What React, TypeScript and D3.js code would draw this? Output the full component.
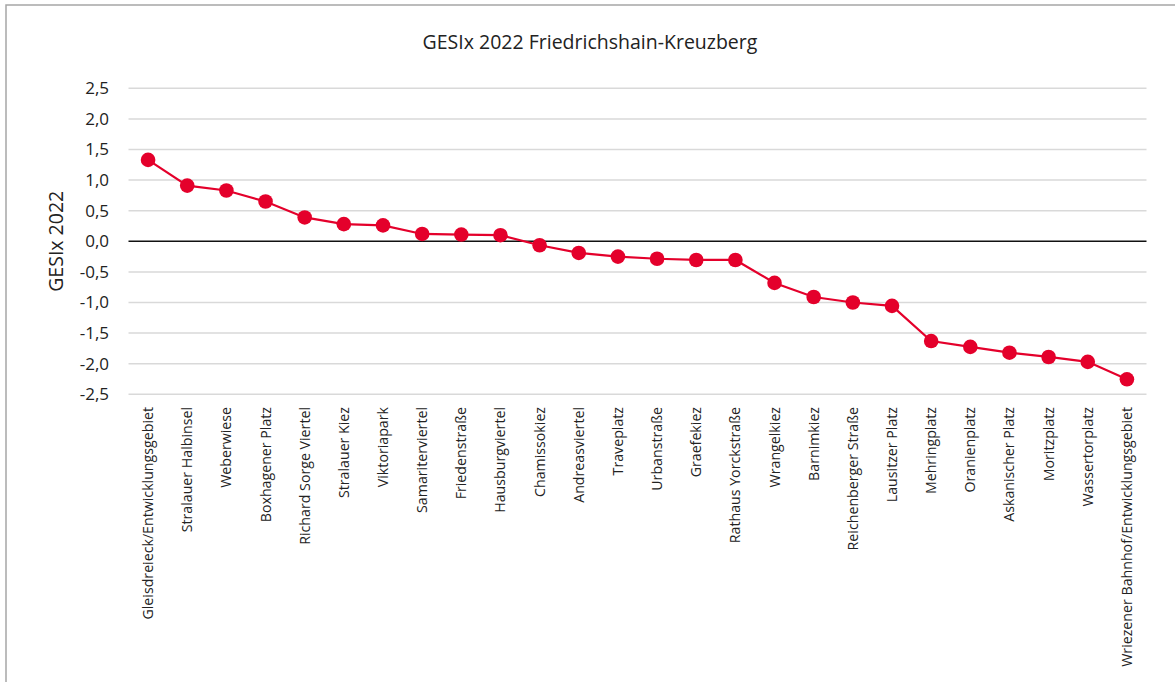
import React from "react";
import * as d3 from "d3";

const categories: string[] = [
  "Gleisdreieck/Entwicklungsgebiet",
  "Stralauer Halbinsel",
  "Weberwiese",
  "Boxhagener Platz",
  "Richard Sorge Viertel",
  "Stralauer Kiez",
  "Viktoriapark",
  "Samariterviertel",
  "Friedenstraße",
  "Hausburgviertel",
  "Chamissokiez",
  "Andreasviertel",
  "Traveplatz",
  "Urbanstraße",
  "Graefekiez",
  "Rathaus Yorckstraße",
  "Wrangelkiez",
  "Barnimkiez",
  "Reichenberger Straße",
  "Lausitzer Platz",
  "Mehringplatz",
  "Oranienplatz",
  "Askanischer Platz",
  "Moritzplatz",
  "Wassertorplatz",
  "Wriezener Bahnhof/Entwicklungsgebiet",
];

const values: number[] = [
  1.33, 0.91, 0.83, 0.65, 0.39, 0.28, 0.26, 0.12, 0.11, 0.1, -0.065, -0.19,
  -0.25, -0.285, -0.305, -0.305, -0.68, -0.91, -1.0, -1.055, -1.63, -1.725,
  -1.82, -1.89, -1.97, -2.255,
];

const yTicks: number[] = [2.5, 2.0, 1.5, 1.0, 0.5, 0.0, -0.5, -1.0, -1.5, -2.0, -2.5];

const title = "GESIx 2022 Friedrichshain-Kreuzberg";
const yTitle = "GESIx 2022";

const W = 1175;
const H = 682;
const FONT = "'Open Sans', 'Noto Sans', sans-serif";
const RED = "#e4002b";

export default function App() {
  const left = 128.5;
  const right = 1146.5;
  const top = 88.3;
  const bottom = 394.3;

  const x = d3.scaleBand<string>().domain(categories).range([left, right]);
  const y = d3.scaleLinear().domain([-2.5, 2.5]).range([bottom, top]);
  const cx = (c: string) => (x(c) as number) + x.bandwidth() / 2;

  const line = d3
    .line<number>()
    .x((_, i) => cx(categories[i]))
    .y((v) => y(v));

  const fmt = (v: number) => v.toFixed(1).replace(".", ",");

  return (
    <svg
      width={W}
      height={H}
      style={{ position: "absolute", left: 0, top: 0, display: "block", background: "#fff" }}
      fontFamily={FONT}
    >
      <rect x={6} y={5} width={W + 10} height={H + 10} fill="#fff" stroke="#a6a6a6" strokeWidth={1.5} />
      <text x={590} y={49} textAnchor="middle" fontSize={19.5} fill="#222">
        {title}
      </text>
      {yTicks.map((t) => (
        <g key={t}>
          {t !== 0 && (
            <line x1={left} x2={right} y1={y(t)} y2={y(t)} stroke="#d9d9d9" strokeWidth={1.5} />
          )}
          <text x={109} y={y(t)} dy="0.35em" textAnchor="end" fontSize={17} fill="#222">
            {fmt(t)}
          </text>
        </g>
      ))}
      <line x1={left} x2={right} y1={y(0)} y2={y(0)} stroke="#111" strokeWidth={1.6} />
      <text
        transform={`translate(63,${y(0)}) rotate(-90)`}
        textAnchor="middle"
        fontSize={19.5}
        fill="#222"
      >
        {yTitle}
      </text>
      {categories.map((c) => (
        <text
          key={c}
          transform={`translate(${cx(c) + 5},${407}) rotate(-90)`}
          textAnchor="end"
          fontSize={14.2}
          fill="#222"
        >
          {c}
        </text>
      ))}
      <path d={line(values) || ""} fill="none" stroke={RED} strokeWidth={2.2} />
      {values.map((v, i) => (
        <circle key={i} cx={cx(categories[i])} cy={y(v)} r={7.3} fill={RED} />
      ))}
    </svg>
  );
}
